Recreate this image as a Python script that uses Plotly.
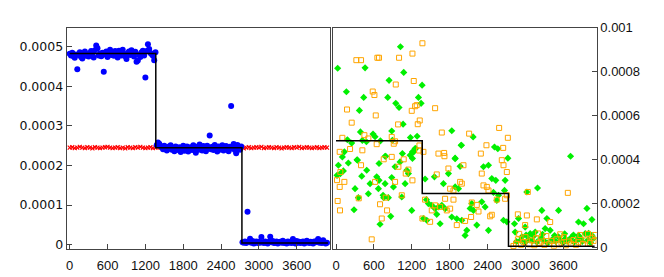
import plotly.graph_objects as go

UNIT = 1e-6  # left-panel values are listed in micro-units
SAMPLE_STEP = 20
RED_STEP = 40

BLUE_SEG1 = [482, 478, 485, 476, 472, 480, 443, 479, 486, 474,
             470, 483, 488, 477, 481, 475, 484, 489, 479, 473,
             491, 503, 496, 478, 483, 476, 485, 437, 480, 488,
             474, 486, 492, 479, 484, 477, 489, 482, 473, 490,
             486, 478, 492, 481, 476, 469, 484, 488, 479, 491,
             483, 475, 487, 462, 465, 480, 474, 486, 490, 478,
             422, 489, 506, 494, 484, 481, 477, 466, 486]
BLUE_SEG2 = [252, 258, 255, 249, 246, 241, 250, 244, 238, 247,
             243, 251, 240, 245, 236, 248, 242, 239, 246, 234,
             244, 250, 237, 243, 248, 235, 241, 246, 239, 251,
             244, 232, 247, 240, 253, 245, 238, 249, 242, 236,
             250, 244, 276, 241, 247, 239, 252, 243, 235, 248,
             240, 246, 251, 238, 244, 249, 241, 236, 247, 350,
             243, 254, 239, 231, 252, 245, 240, 248]
BLUE_SEG3 = [6, 5, 8, 4, 83, 7, 15, 5, 9, 3,
             6, 8, 4, 7, 5, 19, 6, 4, 8, 5,
             3, 7, 20, 6, 9, 4, 5, 8, 3, 6,
             7, 5, 10, 4, 6, 3, 8, 5, 7, 4,
             14, 6, 3, 9, 5, 7, 4, 6, 8, 3,
             5, 10, 6, 4, 7, 5, 3, 8, 6, 9,
             14, 5, 7, 4, 11, 6, 3, 5]

RED_VALUES = [245, 246, 244, 245, 247, 245, 244, 246, 245, 243,
              246, 245, 244, 245, 246, 247, 245, 244, 245, 246,
              244, 245, 243, 246, 245, 244, 246, 245, 247, 245,
              244, 245, 246, 244, 245, 246, 245, 243, 245, 246,
              245, 244, 246, 245, 244, 247, 245, 246, 244, 245,
              246, 245, 244, 245, 243, 246, 245, 244, 246, 245,
              247, 245, 244, 245, 246, 245, 244, 246, 245, 243,
              245, 246, 244, 245, 246, 245, 247, 244, 245, 246,
              245, 244, 246, 245, 243, 245, 246, 245, 244, 246,
              245, 247, 244, 245, 246, 245, 244, 245, 246, 244,
              245, 246, 245]

STEP_X = [0, 1365, 2731, 4095]
STEP_LEFT = [483e-6, 245e-6, 4e-6, 4e-6]
STEP_RIGHT = [484e-6, 244e-6, 4e-6, 4e-6]

GREEN_X = [26, 460, 1020, 1072, 840, 1363, 164, 438, 819, 1305,
           946, 998, 1347, 370, 1062, 386, 586, 618, 882, 1178,
           1284, 180, 248, 417, 481, 1833, 2171, 1986, 2509, 2562,
           3714, 1263, 1231, 1173, 1210, 132, 100, 333, 777, 1886,
           2721, 703, 893,
           37, 16, 69, 116, 195, 338, 407, 301, 486, 539,
           512, 671, 681, 787, 777, 745, 755, 829, 644, 681,
           882, 909, 935, 1014, 1051, 1120, 1146, 1041, 1094, 1210,
           1252, 1199, 285, 354, 697, 866, 1410, 1432, 1463, 1384,
           1437, 1558, 1648, 1595, 1516, 1569, 1622, 1675, 1727, 1701,
           1780, 1886, 1981, 1965, 1886, 1939, 1833, 1912, 1992, 2071,
           2044, 2124, 2176, 2150, 2229, 2335, 2414, 2414, 2308, 2361,
           2467, 2530, 2573, 2493, 2546, 2668, 2678, 2652, 2705,
           3022, 3191, 3259, 3339, 3524, 3840, 3920, 3973, 4052, 2890,
           2826, 2995,
           2837, 2942, 3075, 3154, 3312, 3391, 3524, 3629, 3735, 3840,
           3946, 4052, 2860, 2920, 2990, 3050, 3110, 3180, 3240, 3290,
           3350, 3420, 3480, 3560, 3600, 3660, 3700, 3770, 3810, 3880,
           3900, 3990, 4030, 4080, 3010, 3130, 3270, 3460, 3620, 3760,
           4000]
GREEN_Y = [8.15e-4, 8.17e-4, 9.13e-4, 7.96e-4, 7.60e-4, 7.38e-4, 7.08e-4, 6.82e-4, 6.82e-4, 6.82e-4,
           6.55e-4, 6.36e-4, 6.55e-4, 6.23e-4, 5.60e-4, 5.25e-4, 5.15e-4, 5.03e-4, 5.29e-4, 4.99e-4,
           5.05e-4, 4.89e-4, 4.74e-4, 4.86e-4, 4.80e-4, 5.30e-4, 5.02e-4, 4.64e-4, 4.56e-4, 4.48e-4,
           4.14e-4, 4.49e-4, 4.34e-4, 4.19e-4, 4.04e-4, 4.34e-4, 4.11e-4, 3.98e-4, 4.14e-4, 4.05e-4,
           4.05e-4, 4.84e-4, 4.87e-4,
           3.73e-4, 3.27e-4, 3.35e-4, 3.47e-4, 3.83e-4, 3.96e-4, 3.23e-4, 2.66e-4, 3.50e-4, 2.89e-4,
           2.43e-4, 2.66e-4, 3.81e-4, 4.14e-4, 2.89e-4, 2.36e-4, 2.25e-4, 2.25e-4, 3.20e-4, 3.04e-4,
           3.17e-4, 2.74e-4, 3.66e-4, 3.88e-4, 4.26e-4, 3.50e-4, 3.35e-4, 2.28e-4, 2.89e-4, 4.34e-4,
           4.49e-4, 1.67e-4, 1.70e-4, 2.25e-4, 1.04e-4, 1.40e-4, 3.10e-4, 2.16e-4, 1.98e-4, 1.30e-4,
           1.22e-4, 3.20e-4, 1.06e-4, 1.49e-4, 1.90e-4, 1.75e-4, 1.83e-4, 1.90e-4, 1.75e-4, 2.89e-4,
           3.35e-4, 4.03e-4, 4.64e-4, 3.68e-4, 2.74e-4, 2.66e-4, 1.37e-4, 1.29e-4, 1.22e-4, 0.76e-4,
           0.53e-4, 1.76e-4, 1.67e-4, 1.98e-4, 1.00e-4, 3.66e-4, 3.73e-4, 0.76e-4, 2.06e-4, 1.83e-4,
           3.12e-4, 3.04e-4, 2.36e-4, 2.49e-4, 2.13e-4, 2.58e-4, 3.04e-4, 1.22e-4, 1.15e-4,
           2.51e-4, 2.69e-4, 1.67e-4, 1.30e-4, 1.67e-4, 1.14e-4, 1.06e-4, 1.76e-4, 1.25e-4, 1.30e-4,
           1.06e-4, 0.91e-4,
           0.68e-4, 0.46e-4, 0.61e-4, 0.68e-4, 0.84e-4, 0.76e-4, 0.46e-4, 0.38e-4, 0.46e-4, 0.53e-4,
           0.61e-4, 0.53e-4, 0.25e-4, 0.30e-4, 0.20e-4, 0.35e-4, 0.28e-4, 0.22e-4, 0.40e-4, 0.30e-4,
           0.18e-4, 0.33e-4, 0.25e-4, 0.30e-4, 0.20e-4, 0.27e-4, 0.35e-4, 0.22e-4, 0.30e-4, 0.38e-4,
           0.25e-4, 0.32e-4, 0.20e-4, 0.40e-4, 0.55e-4, 0.50e-4, 0.58e-4, 0.52e-4, 0.60e-4, 0.55e-4,
           0.62e-4]

ORANGE_X = [1368, 322, 396, 655, 681, 998, 1210, 1231, 946, 581,
            608, 1252, 1278, 1199, 1569, 174, 629, 248, 983, 1326,
            1294, 1675, 2108, 2583, 2721, 2382, 2647, 2293, 1622, 1717,
            100, 58, 449, 512, 882, 935, 914, 644, 222, 417,
            1072, 755, 1321, 1315,
            16, 58, 132, 69, 26, 63, 360, 396, 618, 697,
            724, 808, 565, 787, 935, 882, 988, 1041, 1104, 1146,
            1210, 1384, 1410, 1368, 1490, 1516, 1569, 1648, 1595, 1712,
            1780, 1807, 1860, 1754, 1807, 1727, 1860, 1912, 1992, 1965,
            2018, 2044, 2139, 2150, 2229, 2256, 2308, 2335, 2388, 2414,
            2441, 2467, 2546, 2625, 2652, 2705, 2678, 2705,
            3671, 3037, 2879, 3022, 2995, 3180, 3391,
            2810, 2850, 2880, 2930, 2970, 3000, 3060, 3100, 3140, 3170,
            3220, 3260, 3300, 3330, 3380, 3410, 3450, 3490, 3530, 3570,
            3610, 3640, 3690, 3720, 3760, 3800, 3840, 3870, 3910, 3950,
            3990, 4020, 4050, 4080, 4100, 2900, 3200, 3550]
ORANGE_Y = [9.29e-4, 8.52e-4, 8.52e-4, 8.63e-4, 8.63e-4, 8.63e-4, 8.82e-4, 7.57e-4, 7.41e-4, 7.09e-4,
            6.93e-4, 6.42e-4, 6.47e-4, 6.21e-4, 6.33e-4, 6.27e-4, 6.00e-4, 5.67e-4, 5.59e-4, 5.77e-4,
            5.60e-4, 5.22e-4, 5.17e-4, 5.43e-4, 4.98e-4, 4.64e-4, 4.52e-4, 4.26e-4, 4.26e-4, 4.14e-4,
            4.98e-4, 4.34e-4, 5.10e-4, 4.95e-4, 5.02e-4, 4.82e-4, 4.71e-4, 4.69e-4, 4.47e-4, 4.41e-4,
            4.00e-4, 4.00e-4, 4.63e-4, 4.40e-4,
            3.05e-4, 2.74e-4, 2.97e-4, 3.42e-4, 2.10e-4, 1.67e-4, 2.22e-4, 3.73e-4, 2.97e-4, 1.95e-4,
            1.30e-4, 1.67e-4, 0.35e-4, 2.25e-4, 2.97e-4, 4.11e-4, 3.66e-4, 2.36e-4, 3.35e-4, 3.53e-4,
            3.04e-4, 4.34e-4, 2.16e-4, 1.30e-4, 1.15e-4, 1.67e-4, 1.90e-4, 1.83e-4, 3.31e-4, 4.29e-4,
            3.58e-4, 2.66e-4, 2.58e-4, 1.67e-4, 1.75e-4, 2.20e-4, 2.16e-4, 1.00e-4, 2.89e-4, 2.97e-4,
            3.73e-4, 1.19e-4, 1.37e-4, 2.03e-4, 1.92e-4, 1.62e-4, 3.35e-4, 2.81e-4, 2.74e-4, 2.58e-4,
            1.40e-4, 1.47e-4, 2.16e-4, 3.96e-4, 3.73e-4, 3.42e-4, 2.20e-4, 2.36e-4,
            2.47e-4, 2.51e-4, 1.49e-4, 1.44e-4, 1.00e-4, 1.26e-4, 1.14e-4,
            0.05e-4, 0.15e-4, 0.35e-4, 0.10e-4, 0.22e-4, 0.45e-4, 0.12e-4, 0.30e-4, 0.08e-4, 0.40e-4,
            0.18e-4, 0.25e-4, 0.10e-4, 0.50e-4, 0.15e-4, 0.28e-4, 0.06e-4, 0.35e-4, 0.12e-4, 0.20e-4,
            0.45e-4, 0.08e-4, 0.25e-4, 0.15e-4, 0.32e-4, 0.10e-4, 0.22e-4, 0.55e-4, 0.14e-4, 0.30e-4,
            0.60e-4, 0.18e-4, 0.42e-4, 0.28e-4, 0.55e-4, 0.60e-4, 0.62e-4, 0.58e-4]

LEFT_YTICKS = [0, 0.0001, 0.0002, 0.0003, 0.0004, 0.0005]
LEFT_YLABELS = ["0", "0.0001", "0.0002", "0.0003", "0.0004", "0.0005"]
RIGHT_YTICKS = [0, 0.0002, 0.0004, 0.0006, 0.0008, 0.001]
RIGHT_YLABELS = ["0", "0.0002", "0.0004", "0.0006", "0.0008", "0.001"]
XTICKS = [0, 600, 1200, 1800, 2400, 3000, 3600]

blue_vals = BLUE_SEG1 + BLUE_SEG2 + BLUE_SEG3
blue_x = [i * SAMPLE_STEP for i in range(len(blue_vals))]
blue_y = [v * UNIT for v in blue_vals]
red_x = [i * RED_STEP for i in range(len(RED_VALUES))]
red_y = [v * UNIT for v in RED_VALUES]

fig = go.Figure()
fig.add_trace(go.Scatter(x=red_x, y=red_y, mode="markers", xaxis="x", yaxis="y",
                         marker=dict(symbol="x-thin", size=4, color="#ff0000",
                                     line=dict(color="#ff0000", width=1.2)),
                         showlegend=False, hoverinfo="skip"))
fig.add_trace(go.Scatter(x=blue_x, y=blue_y, mode="markers", xaxis="x", yaxis="y",
                         marker=dict(symbol="circle", size=6, color="#0000ff", line=dict(width=0)),
                         showlegend=False))
fig.add_trace(go.Scatter(x=STEP_X, y=STEP_LEFT, mode="lines", xaxis="x", yaxis="y",
                         line=dict(color="#000000", width=1.5, shape="hv"), showlegend=False))

fig.add_trace(go.Scatter(x=GREEN_X, y=GREEN_Y, mode="markers", xaxis="x2", yaxis="y2",
                         marker=dict(symbol="diamond", size=5.5, color="#00f000", line=dict(width=0)),
                         showlegend=False))
fig.add_trace(go.Scatter(x=ORANGE_X, y=ORANGE_Y, mode="markers", xaxis="x2", yaxis="y2",
                         marker=dict(symbol="square-open", size=5, color="#ffa500",
                                     line=dict(color="#ffa500", width=1)),
                         showlegend=False))
fig.add_trace(go.Scatter(x=STEP_X, y=STEP_RIGHT, mode="lines", xaxis="x2", yaxis="y2",
                         line=dict(color="#000000", width=1.5, shape="hv"), showlegend=False))

font = dict(family="Liberation Sans, Arial, sans-serif", size=13, color="#111111")
font_left = dict(family="DejaVu Sans, sans-serif", size=12.5, color="#111111")
axis_common = dict(showline=True, mirror=True, linecolor="#444444", linewidth=1,
                   ticks="inside", ticklen=5, tickcolor="#444444", showgrid=False,
                   zeroline=False, automargin=False)
XRANGE = [-48, 4128]

# page body adds an 8px offset; figure is sized to fill the remaining window
W, H = 656, 269

fig.update_layout(
    template="none",
    width=W, height=H,
    margin=dict(l=0, r=0, t=0, b=0, autoexpand=False),
    paper_bgcolor="white", plot_bgcolor="white",
    xaxis=dict(domain=[58.7 / W, 322.0 / W], range=XRANGE, tickvals=XTICKS,
               anchor="y", tickfont=font, ticklabelstandoff=4, **axis_common),
    yaxis=dict(domain=[1 - 241.0 / H, 1 - 19.7 / H], range=[-0.000011, 0.000548],
               tickvals=LEFT_YTICKS, ticktext=LEFT_YLABELS, anchor="x",
               tickfont=font_left, **axis_common),
    xaxis2=dict(domain=[325.0 / W, 588.7 / W], range=XRANGE, tickvals=XTICKS,
                anchor="y2", tickfont=font, ticklabelstandoff=4, **axis_common),
    yaxis2=dict(domain=[1 - 241.0 / H, 1 - 19.7 / H], range=[-0.000009, 0.001], side="right",
                tickvals=RIGHT_YTICKS, ticktext=RIGHT_YLABELS, anchor="x2",
                tickfont=font, **axis_common),
)

fig.write_html("out.html")
